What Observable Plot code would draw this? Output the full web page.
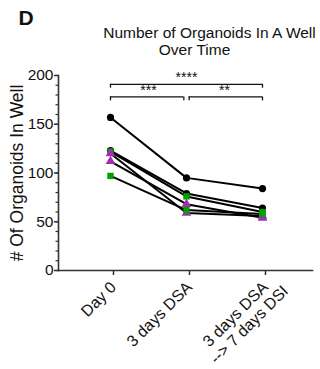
<!DOCTYPE html>
<html>
<head>
<meta charset="utf-8">
<script src="https://cdn.jsdelivr.net/npm/d3@7"></script>
<script src="https://cdn.jsdelivr.net/npm/@observablehq/plot@0.6"></script>
<style>
  body { margin: 0; background: #fff; }
  #chart { position: relative; width: 320px; height: 369px; }
</style>
</head>
<body>
<div id="chart"></div>
<script>
const categories = ["Day 0", "3 days DSA", "3 days DSA\n--> 7 days DSI"];
const seriesA = [157, 95, 84];
const seriesB = [123, 79, 64];
const seriesC = [122, 76, 60];
const seriesD = [120, 59, 56];
const seriesE = [112, 68, 54];
const seriesF = [97, 62, 58];
const seriesValues = [seriesA, seriesB, seriesC, seriesD, seriesE, seriesF];
const seriesShapes = ["circle", "circle", "square", "triangle", "triangle", "square"];
const seriesColors = ["#000000", "#000000", "#00a000", "#a030b0", "#a030b0", "#00a000"];
const majorTicks = [0, 50, 100, 150, 200];
const minorTicks = d3.range(0, 201, 10);
// significance brackets: [from category index, to category index, label, level]
const bracketFrom = [0, 0, 1];
const bracketTo = [2, 1, 2];
const bracketLabels = ["****", "***", "**"];
const bracketLevels = [191, 178, 178];

const gap = 0.035;
const brackets = bracketFrom.map((f, k) => {
  const lower = bracketLevels[k] < d3.max(bracketLevels);
  const x1 = f + (lower && f > 0 ? gap : 0);
  const x2 = bracketTo[k] - (lower && bracketTo[k] < 2 ? gap : 0);
  return {x1, x2, y: bracketLevels[k], label: bracketLabels[k], xm: (f + bracketTo[k]) / 2};
});
const bracketEnds = brackets.flatMap(b => [{x: b.x1, y1: b.y, y2: b.y - 4}, {x: b.x2, y1: b.y, y2: b.y - 4}]);

const data = seriesValues.flatMap((vals, s) => vals.map((v, i) => ({
  series: s, idx: i, value: v, shape: seriesShapes[s], color: seriesColors[s]
})));

const extraLines = categories.flatMap((c, i) => c.split("\n").slice(1).map(t => ({idx: i, text: t})));

const font = "'Liberation Sans', Arial, Helvetica, sans-serif";

const chart = Plot.plot({
  width: 320,
  height: 369,
  marginLeft: 58,
  marginRight: 8,
  marginTop: 75,
  marginBottom: 99,
  style: {fontFamily: font, background: "#fff", color: "#111", overflow: "visible"},
  x: {domain: [-0.684, 2.658]},
  y: {domain: [0, 200]},
  symbol: {domain: ["circle", "square", "triangle"], range: ["circle", "square", "triangle"]},
  marks: [
    Plot.axisY(minorTicks, {tickSize: 2.5, tickFormat: () => "", strokeWidth: 1.2, stroke: "#333", label: null}),
    Plot.axisY(majorTicks, {tickSize: 4, tickPadding: 1, fontSize: 15.5, strokeWidth: 1.5, stroke: "#333", label: null}),
    Plot.axisX([0, 1, 2], {tickSize: 5, tickRotate: -45, tickPadding: 9, dx: 3, fontSize: 16, strokeWidth: 1.5, stroke: "#333",
      tickFormat: i => categories[i].split("\n")[0], label: null}),
    Plot.text(extraLines, {x: "idx", text: "text", frameAnchor: "bottom", rotate: -45, textAnchor: "end", lineAnchor: "middle",
      fontSize: 16, dx: 23, dy: 18}),
    Plot.frame({anchor: "left", strokeWidth: 1.6, stroke: "#333"}),
    Plot.frame({anchor: "bottom", strokeWidth: 1.6, stroke: "#333"}),
    Plot.ruleY(brackets, {x1: "x1", x2: "x2", y: "y", strokeWidth: 1.3}),
    Plot.ruleX(bracketEnds, {x: "x", y1: "y1", y2: "y2", strokeWidth: 1.3}),
    Plot.text(brackets, {x: "xm", y: "y", text: "label", fontSize: 14, lineAnchor: "bottom", dy: -2}),
    Plot.line(data, {x: "idx", y: "value", z: "series", stroke: "#000", strokeWidth: 2}),
    Plot.dot(data, {x: "idx", y: "value", symbol: "shape", fill: "color", r: 3.6}),
    Plot.text(["# Of Organoids In Well"], {frameAnchor: "left", textAnchor: "middle", dx: -41, rotate: -90, fontSize: 17.5, lineAnchor: "middle"}),
    Plot.text(["Number of Organoids In A Well"], {frameAnchor: "top", dx: 24, dy: -42, fontSize: 15.5, lineAnchor: "middle"}),
    Plot.text(["Over Time"], {frameAnchor: "top", dx: 9, dy: -25, fontSize: 15.5, lineAnchor: "middle"}),
    Plot.text(["D"], {frameAnchor: "top-left", textAnchor: "start", dx: -40, dy: -57, fontSize: 21, fontWeight: "bold", lineAnchor: "middle"})
  ]
});
document.getElementById("chart").appendChild(chart);
</script>
</body>
</html>
